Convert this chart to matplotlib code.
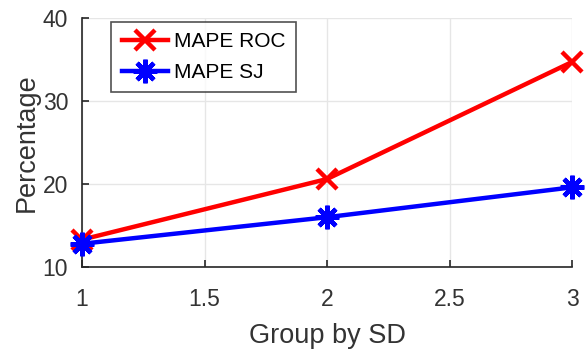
import matplotlib
matplotlib.use('Agg')
import matplotlib.pyplot as plt

# data
groups = [1, 2, 3]
mape_roc = [13.3, 20.6, 34.7]
mape_sj = [12.8, 16.0, 19.6]
xticks = [1, 1.5, 2, 2.5, 3]
yticks = [10, 20, 30, 40]

plt.rcParams['font.family'] = ['Liberation Sans', 'DejaVu Sans']

fig = plt.figure(figsize=(5.85, 3.54), dpi=100)
ax = fig.add_axes([82 / 585, 1 - 267 / 354, (572 - 82) / 585, (267 - 18) / 354])

ax.plot(groups, mape_roc, color='#ff0000', lw=3.2, marker='x', ms=14, mew=3.2,
        label='MAPE ROC', clip_on=False, zorder=3)
ax.plot(groups, mape_sj, color='#0000ff', lw=3.2, marker=(8, 2, 0), ms=17, mew=3.2,
        label='MAPE SJ', clip_on=False, zorder=4)

ax.set_xlim(1, 3)
ax.set_ylim(10, 40)
ax.set_xticks(xticks)
ax.set_xticklabels(['1', '1.5', '2', '2.5', '3'])
ax.set_yticks(yticks)
ax.grid(True, color='#e6e6e6', lw=1)
ax.set_axisbelow(True)
for s in ['top', 'right']:
    ax.spines[s].set_visible(False)
for s in ['left', 'bottom']:
    ax.spines[s].set_color('#262626')
    ax.spines[s].set_linewidth(1.2)
ax.tick_params(direction='in', length=5, width=1.2, colors='#262626',
               labelsize=16.5, labelcolor='#333333', pad=10)
ax.tick_params(axis='x', pad=15)
ax.set_xlabel('Group by SD', fontsize=19.5, color='#333333', labelpad=9)
ax.set_ylabel('Percentage', fontsize=19.5, color='#333333', labelpad=2)

leg = ax.legend(loc='upper left', bbox_to_anchor=(0.06, 0.984), fontsize=15,
                handlelength=2.2, frameon=True, fancybox=False,
                borderpad=0.5, labelspacing=0.55, handletextpad=0.3,
                borderaxespad=0)
leg.get_frame().set_edgecolor('#262626')
leg.get_frame().set_linewidth(1.2)

fig.savefig('out.png', dpi=100)
